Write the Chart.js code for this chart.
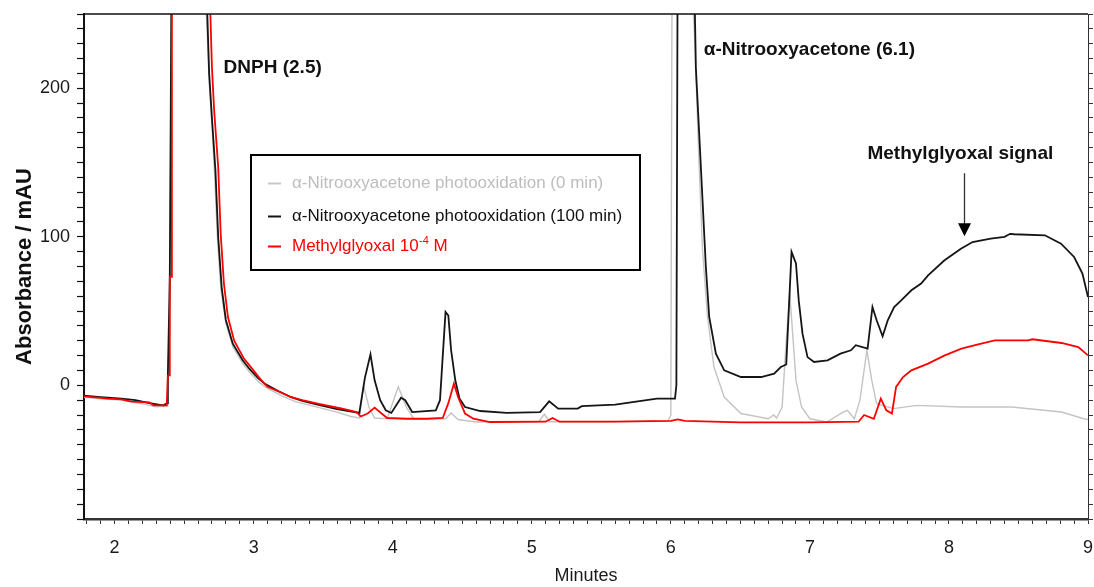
<!DOCTYPE html>
<html>
<head>
<meta charset="utf-8">
<script src="https://cdn.jsdelivr.net/npm/chart.js@4.4.1/dist/chart.umd.min.js"></script>
<style>
html,body{margin:0;padding:0;background:#fff;}
#wrap{width:1094px;height:587px;position:relative;}
</style>
</head>
<body>
<div id="wrap"><canvas id="c" width="1094" height="587"></canvas></div>
<script>
// ---------- DATA ----------
const seriesNames = [
  'α-Nitrooxyacetone photooxidation (0 min)',
  'α-Nitrooxyacetone photooxidation (100 min)',
  'Methylglyoxal 10-4 M'
];
// retention time (min) / absorbance (mAU); values above 250 are off-scale peaks
const timeGray = [1.78,1.9,2.05,2.2,2.3,2.378,2.383,2.397,2.412,2.655,2.66,2.68,2.70,2.72,2.74,2.765,2.80,2.85,2.92,2.97,3.04,3.10,3.20,3.30,3.45,3.60,3.70,3.76,3.79,3.83,3.87,3.96,4.04,4.10,4.15,4.38,4.42,4.47,4.60,5.05,5.09,5.13,5.50,5.98,6.00,6.01,6.12,6.17,6.204,6.228,6.264,6.31,6.384,6.504,6.70,6.74,6.76,6.80,6.83,6.855,6.88,6.90,6.94,7.00,7.12,7.24,7.27,7.32,7.36,7.41,7.445,7.48,7.60,7.77,8.09,8.45,8.81,8.97,9.0];
const absGray  = [-8,-9,-10,-12.5,-14.5,-14,10,40,320,320,250,205,175,140,98,64,42,26,15,9,2,-2,-7,-11,-14.5,-18,-21,-22,0,-15,-22,-22.5,-1,-15,-22.5,-22.5,-18.6,-23,-24.7,-24.5,-19.5,-24.5,-24.5,-24,-20,320,320,237,147,91,46,12.3,-7.9,-19,-22.5,-20,-22,-15,30,62,30,3.4,-14.6,-22.5,-24.7,-18,-16.8,-22.5,-10,23.6,3.4,-12.3,-15.7,-13.5,-14.6,-14.6,-18,-22.5,-23];

const timeBlack = [1.78,1.9,2.05,2.15,2.25,2.35,2.378,2.383,2.397,2.412,2.66,2.665,2.68,2.70,2.725,2.745,2.77,2.80,2.85,2.92,2.97,3.03,3.08,3.18,3.27,3.35,3.46,3.60,3.76,3.80,3.84,3.87,3.91,3.95,3.99,4.06,4.09,4.14,4.31,4.34,4.36,4.38,4.40,4.42,4.45,4.48,4.52,4.63,4.82,5.06,5.125,5.19,5.33,5.36,5.60,5.75,5.90,6.03,6.04,6.05,6.16,6.18,6.204,6.228,6.252,6.276,6.324,6.384,6.504,6.65,6.743,6.791,6.83,6.868,6.90,6.92,6.947,6.983,7.03,7.127,7.22,7.295,7.33,7.415,7.45,7.48,7.523,7.56,7.606,7.655,7.73,7.80,7.85,7.966,8.086,8.17,8.30,8.40,8.44,8.47,8.69,8.806,8.90,8.96,9.0];
const absBlack  = [-7,-8,-9,-10,-12,-13.5,-12,6.5,73,320,320,255,210,180,145,100,66,44,28,17,11,5,1,-4,-8,-10.5,-13,-16,-18.6,5,20.9,3.4,-10,-16.8,-18.6,-8.3,-10,-18,-16.8,-10,20,49.4,47,23.6,3.4,-8.8,-14.6,-17.3,-18.6,-18,-10.8,-15.7,-15.7,-14,-13,-11,-9,-9,0,320,320,214,169.5,124.6,79.7,46,21.3,10.1,5.6,5.6,7.9,12.3,14,89.8,82,57,34.8,19,15.7,16.8,21.3,23.6,27,24.7,52.7,43.8,33,43.8,52.7,57,64,68.5,74,84,92,96.5,98.8,100,102,101.7,101,95.4,86.4,75.2,59.5];

const timeRed = [1.78,1.9,1.95,2.05,2.12,2.25,2.28,2.375,2.383,2.395,2.397,2.408,2.412,2.67,2.685,2.70,2.716,2.745,2.763,2.786,2.815,2.86,2.93,2.98,3.05,3.10,3.20,3.27,3.35,3.46,3.63,3.74,3.77,3.82,3.87,3.92,3.96,4.10,4.25,4.36,4.40,4.44,4.47,4.52,4.58,4.70,5.10,5.15,5.20,5.60,6.00,6.05,6.10,6.50,7.00,7.35,7.39,7.46,7.51,7.55,7.59,7.62,7.67,7.73,7.85,7.97,8.09,8.21,8.33,8.57,8.60,8.81,8.93,9.0];
const absRed  = [-7.5,-8.5,-9,-9.5,-11,-11.5,-13.5,-13.5,6.5,6.7,73,73,320,320,262,214,185,147,102,68.7,46,30,18,12.3,4,-1,-5,-8,-10,-12.3,-15.6,-18,-21,-19,-15,-19,-22,-22.5,-22.5,-22,-12,1.1,-7.9,-19,-22.5,-24.7,-24.5,-22,-24.5,-24.5,-24,-23,-24,-25,-25,-24.5,-20,-22.5,-9,-16.8,-19,-1.1,5.6,10.1,14.6,20.2,24.7,27.6,30.3,30.3,31,28.5,25.8,20.2];

const yTickLabels = [0, 100, 200];
const xTickLabels = [2, 3, 4, 5, 6, 7, 8, 9];
const peakLabels = ['DNPH (2.5)', 'α-Nitrooxyacetone (6.1)', 'Methylglyoxal signal'];

// ---------- STYLE ----------
const FONT = '"Liberation Sans", Arial, Helvetica, sans-serif';
const colors = ['#c4c4c4', '#151515', '#ff0000'];
const toXY = (ts, vs) => ts.map((t, i) => ({x: t, y: vs[i]}));

const annotate = {
  id: 'annotate',
  afterDraw(chart) {
    const {ctx, chartArea: a, scales: {x, y}} = chart;
    ctx.save();
    // top frame line
    ctx.strokeStyle = '#111';
    ctx.lineWidth = 1.5;
    ctx.beginPath(); ctx.moveTo(a.left, a.top); ctx.lineTo(a.right, a.top); ctx.stroke();

    // peak labels
    const labelPos = [[2.784, 213.5], [6.237, 225.6], [7.414, 156]];
    ctx.fillStyle = '#111';
    ctx.font = 'bold 19px ' + FONT;
    ctx.textAlign = 'left';
    ctx.textBaseline = 'middle';
    peakLabels.forEach((txt, i) => {
      ctx.fillText(txt, x.getPixelForValue(labelPos[i][0]), y.getPixelForValue(labelPos[i][1]));
    });

    // arrow
    const ax = Math.round(x.getPixelForValue(8.11)) + 0.5;
    const ay0 = y.getPixelForValue(142.8);
    const ayTip = y.getPixelForValue(100.3);
    ctx.strokeStyle = '#333';
    ctx.lineWidth = 1.3;
    ctx.beginPath(); ctx.moveTo(ax, ay0); ctx.lineTo(ax, ayTip - 12); ctx.stroke();
    ctx.fillStyle = '#000';
    ctx.beginPath();
    ctx.moveTo(ax - 6.5, ayTip - 13); ctx.lineTo(ax + 6.5, ayTip - 13); ctx.lineTo(ax, ayTip);
    ctx.closePath(); ctx.fill();

    // legend box
    const bx = 251, by = 155, bw = 389, bh = 115;
    ctx.fillStyle = '#fff';
    ctx.fillRect(bx, by, bw, bh);
    ctx.strokeStyle = '#000';
    ctx.lineWidth = 2;
    ctx.strokeRect(bx, by, bw, bh);
    const rows = [183.5, 216.5, 246.5];
    const textCols = ['#bdbdbd', '#111', '#ff0000'];
    ctx.font = '17px ' + FONT;
    ctx.textBaseline = 'middle';
    rows.forEach((ry, i) => {
      ctx.strokeStyle = i === 0 ? '#c8c8c8' : colors[i];
      ctx.lineWidth = 2;
      ctx.beginPath(); ctx.moveTo(268, ry); ctx.lineTo(281, ry); ctx.stroke();
      ctx.fillStyle = textCols[i];
      if (i < 2) {
        ctx.fillText(seriesNames[i], 292, ry);
      } else {
        const base = 'Methylglyoxal 10';
        ctx.fillText(base, 292, ry);
        let px = 292 + ctx.measureText(base).width;
        ctx.font = '11px ' + FONT;
        ctx.fillText('-4', px + 0.5, ry - 6);
        px += ctx.measureText('-4').width + 0.5;
        ctx.font = '17px ' + FONT;
        ctx.fillText(' M', px, ry);
      }
    });
    ctx.restore();
  }
};

const tickFont = {family: FONT, size: 18};
const noPad = s => { s.paddingLeft = 0; s.paddingRight = 0; s.paddingTop = 0; s.paddingBottom = 0; };

new Chart(document.getElementById('c'), {
  type: 'scatter',
  data: {
    datasets: [
      {label: seriesNames[0], data: toXY(timeGray, absGray), borderColor: colors[0], borderWidth: 1.4, order: 3},
      {label: seriesNames[1], data: toXY(timeBlack, absBlack), borderColor: colors[1], borderWidth: 1.8, order: 2},
      {label: seriesNames[2], data: toXY(timeRed, absRed), borderColor: colors[2], borderWidth: 1.8, order: 1}
    ].map(d => Object.assign(d, {showLine: true, pointRadius: 0, pointHoverRadius: 0, tension: 0, fill: false, backgroundColor: d.borderColor}))
  },
  options: {
    responsive: false,
    animation: false,
    events: [],
    layout: {padding: {left: 8, top: 14, right: 0, bottom: 0}},
    plugins: {legend: {display: false}, tooltip: {enabled: false}},
    scales: {
      x: {
        type: 'linear', position: 'bottom', min: 1.78, max: 9.0,
        afterFit(s) { s.height = 68; noPad(s); },
        ticks: {
          stepSize: 0.1, includeBounds: false, autoSkip: false, maxRotation: 0, padding: 13,
          color: '#1a1a1a', font: tickFont,
          callback: v => { const r = Math.round(v); return (Math.abs(v - r) < 1e-6 && xTickLabels.includes(r)) ? String(r) : ''; }
        },
        grid: {drawOnChartArea: false, drawTicks: true, tickLength: 5, color: '#333', tickWidth: 1},
        border: {display: true, color: '#333', width: 2.5},
        title: {display: true, text: 'Minutes', color: '#1a1a1a', font: {family: FONT, size: 18}, padding: {top: 0, bottom: 0}}
      },
      y: {
        type: 'linear', position: 'left', min: -90, max: 250,
        afterFit(s) { s.width = 76; noPad(s); },
        ticks: {
          stepSize: 10, includeBounds: false, autoSkip: false, padding: 7,
          color: '#1a1a1a', font: tickFont,
          callback: v => { const r = Math.round(v); return (Math.abs(v - r) < 1e-6 && yTickLabels.includes(r)) ? String(r) : ''; }
        },
        grid: {drawOnChartArea: false, drawTicks: true, tickLength: 7, color: '#111', tickWidth: 1.2},
        border: {display: true, color: '#111', width: 2},
        title: {display: true, text: 'Absorbance / mAU', color: '#111', font: {family: FONT, size: 22, weight: 'bold'}, padding: {top: 4, bottom: 0}}
      },
      y2: {
        type: 'linear', position: 'right', min: -90, max: 250,
        afterFit(s) { s.width = 6; noPad(s); },
        ticks: {display: false, stepSize: 10, includeBounds: false, autoSkip: false},
        grid: {drawOnChartArea: false, drawTicks: true, tickLength: 5, color: '#333', tickWidth: 1},
        border: {display: true, color: '#333', width: 1}
      }
    }
  },
  plugins: [annotate]
});
</script>
</body>
</html>
